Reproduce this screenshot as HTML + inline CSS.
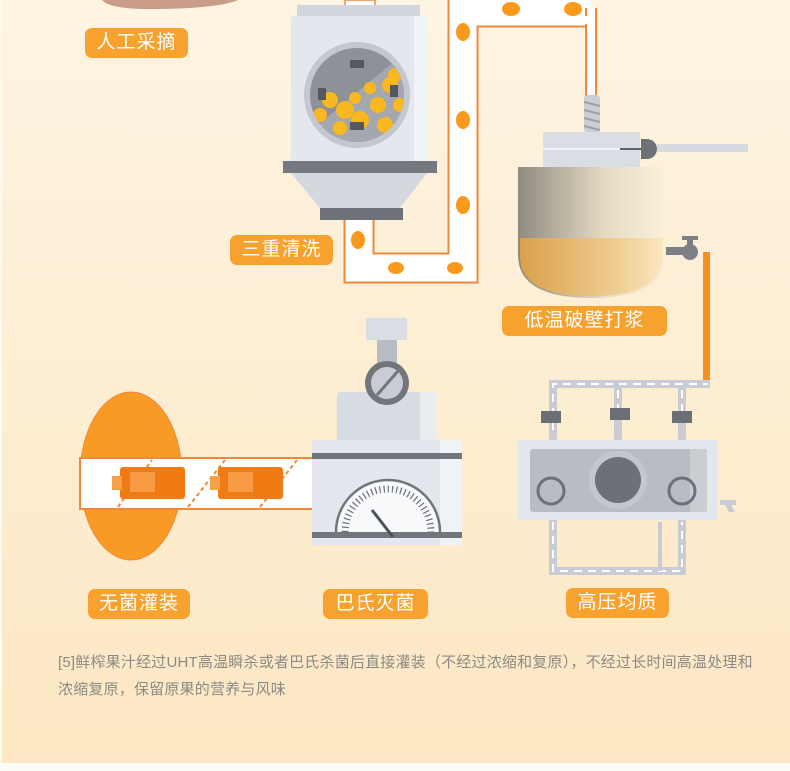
<!DOCTYPE html>
<html><head><meta charset="utf-8"><style>
html,body{margin:0;padding:0}
body{width:790px;height:771px;overflow:hidden;font-family:"Liberation Sans","Noto Sans CJK SC",sans-serif;}
.lbl{position:absolute;background:#f7a12f;color:#fff;border-radius:7px;font-size:19px;line-height:30px;height:30px;text-align:center;letter-spacing:1px}
.note{position:absolute;left:58px;top:649px;width:720px;font-size:15px;line-height:27px;color:#8c8a85;letter-spacing:0.2px;white-space:nowrap}
</style></head><body>
<svg width="790" height="771" style="position:absolute;left:0;top:0" xmlns="http://www.w3.org/2000/svg">
<defs>
<linearGradient id="bg" x1="0" y1="0" x2="0" y2="1"><stop offset="0" stop-color="#fdf4e2"/><stop offset="1" stop-color="#fde7c3"/></linearGradient>
<linearGradient id="jar" x1="0" y1="0" x2="1" y2="0"><stop offset="0" stop-color="#8f8b80"/><stop offset="0.6" stop-color="#e6dcc5"/><stop offset="1" stop-color="#fbf0d8"/></linearGradient>
<linearGradient id="juice" x1="0" y1="0" x2="1" y2="0"><stop offset="0" stop-color="#d9a149"/><stop offset="0.7" stop-color="#efcf95"/><stop offset="1" stop-color="#fae7c2"/></linearGradient>
<clipPath id="circ"><circle cx="357" cy="95" r="47"/></clipPath>
</defs>
<rect width="790" height="771" fill="url(#bg)"/>
<rect x="0" y="763" width="790" height="8" fill="#fefcf8"/>
<rect x="0" y="0" width="2" height="763" fill="#fffaf0"/>
<path d="M102 0 Q110 10 160 9 Q220 8 238 0 Z" fill="#c99d8a"/>
<path d="M359 219 V268 H463 V12 H591" fill="none" stroke="#f08a3a" stroke-width="31"/>
<path d="M359 219 V268 H463 V12 H591" fill="none" stroke="#fff" stroke-width="27"/>
<rect x="585" y="8" width="12" height="90" fill="#f08a3a"/>
<rect x="587" y="8" width="8" height="90" fill="#fff"/>
<rect x="579" y="16" width="12" height="8" fill="#fff"/>
<rect x="345" y="0" width="30" height="8" fill="#fff" stroke="#f08a3a" stroke-width="1.5"/>
<g fill="#f99a1d">
<ellipse cx="358" cy="240" rx="7" ry="9"/><ellipse cx="396" cy="268" rx="8" ry="6"/><ellipse cx="455" cy="268" rx="8" ry="6"/>
<ellipse cx="463" cy="32" rx="7" ry="9"/><ellipse cx="463" cy="120" rx="7" ry="9"/><ellipse cx="463" cy="205" rx="7" ry="9"/>
<ellipse cx="511" cy="9" rx="9" ry="7"/><ellipse cx="573" cy="9" rx="9" ry="7"/>
</g>
<rect x="297" y="5" width="123" height="13" fill="#d2d7de"/>
<rect x="291" y="16" width="136" height="146" rx="3" fill="#e4e8ee"/>
<rect x="414" y="16" width="13" height="146" fill="#f1f3f6"/>
<circle cx="357" cy="95" r="53" fill="#c3c7ce"/>
<circle cx="357" cy="95" r="47" fill="#8e9198"/>
<g clip-path="url(#circ)">
<polygon points="300,140 420,40 420,150" fill="#a4a7ad"/>
<g fill="#f9b720"><circle cx="330" cy="100" r="8"/><circle cx="345" cy="110" r="9"/><circle cx="320" cy="115" r="7"/><circle cx="360" cy="120" r="9"/><circle cx="378" cy="105" r="8"/><circle cx="390" cy="85" r="8"/><circle cx="370" cy="88" r="6"/><circle cx="340" cy="128" r="7"/><circle cx="385" cy="125" r="8"/><circle cx="400" cy="105" r="7"/><circle cx="315" cy="132" r="6"/><circle cx="395" cy="75" r="7"/><circle cx="355" cy="98" r="6"/></g>
</g>
<rect x="350" y="60" width="14" height="8" fill="#55585e"/><rect x="318" y="88" width="8" height="12" fill="#55585e"/><rect x="350" y="122" width="14" height="8" fill="#55585e"/><rect x="390" y="85" width="8" height="12" fill="#55585e"/>
<rect x="283" y="161" width="154" height="12" fill="#75787e"/>
<polygon points="291,173 427,173 400,208 320,208" fill="#d4d8df"/>
<rect x="320" y="208" width="83" height="12" fill="#6f7278"/>
<rect x="584" y="95" width="16" height="38" rx="4" fill="#c9ced6"/>
<g stroke="#9aa0a8" stroke-width="2"><line x1="584" y1="102" x2="600" y2="106"/><line x1="584" y1="110" x2="600" y2="114"/><line x1="584" y1="118" x2="600" y2="122"/><line x1="584" y1="126" x2="600" y2="130"/></g>
<path d="M518 167 H665 V255 Q665 298 592 298 Q518 298 518 255 Z" fill="url(#jar)"/>
<path d="M520 238 H663 V256 Q663 296 592 296 Q520 296 520 256 Z" fill="url(#juice)"/>
<rect x="543" y="132" width="97" height="35" fill="#d9dde4"/>
<line x1="543" y1="149" x2="640" y2="149" stroke="#f3f4f7" stroke-width="2"/>
<line x1="620" y1="149" x2="642" y2="149" stroke="#5f6268" stroke-width="2"/>
<path d="M641 139 H647 A10 10 0 0 1 647 159 H641 Z" fill="#6e7178"/>
<rect x="657" y="144" width="91" height="8" fill="#d6dbe2"/>
<rect x="666" y="247" width="22" height="8" fill="#7c7f86"/><circle cx="690" cy="252" r="8" fill="#7c7f86"/><rect x="687" y="237" width="6" height="8" fill="#7c7f86"/><rect x="682" y="236" width="16" height="4" fill="#7c7f86"/>
<rect x="703" y="252" width="7" height="130" fill="#f7901e"/>
<g fill="none" stroke="#c8cdd5" stroke-width="8">
<path d="M553 442 V384 H710"/><path d="M618 384 V442"/><path d="M682 384 V442"/>
<path d="M553 518 V571 H682 V518"/>
</g>
<g fill="none" stroke="#fff" stroke-width="2" stroke-dasharray="8 6">
<path d="M553 430 V384 H708"/><path d="M618 390 V412"/><path d="M682 390 V412"/><path d="M553 522 V571 H682 V522"/>
</g>
<line x1="660" y1="522" x2="660" y2="571" stroke="#c8cdd5" stroke-width="4"/>
<rect x="541" y="411" width="20" height="12" fill="#6b6e75"/><rect x="610" y="408" width="20" height="12" fill="#6b6e75"/><rect x="672" y="411" width="20" height="12" fill="#6b6e75"/>
<rect x="518" y="440" width="200" height="80" fill="#e2e6ed"/>
<rect x="530" y="449" width="177" height="63" rx="3" fill="#b9bcc3"/>
<rect x="690" y="449" width="17" height="63" fill="#d2d5da" opacity=".7"/>
<circle cx="618" cy="480" r="29" fill="#c4c7cd"/><circle cx="618" cy="480" r="23" fill="#6d7078"/>
<circle cx="551" cy="491" r="13" fill="none" stroke="#6d7078" stroke-width="3"/>
<circle cx="682" cy="491" r="13" fill="none" stroke="#6d7078" stroke-width="3"/>
<path d="M720 500 H736 V505 H731 L735 512 H729 L725 505 H720 Z" fill="#c8cdd5"/>
<ellipse cx="131" cy="476" rx="51" ry="84" fill="#f99a24" stroke="#f08a3a"/>
<rect x="80" y="458" width="235" height="51" fill="#fff" stroke="#f08a3a" stroke-width="2"/>
<g stroke="#f08a3a" stroke-width="2" stroke-dasharray="4 3"><line x1="118" y1="507" x2="152" y2="460"/><line x1="188" y1="507" x2="225" y2="460"/><line x1="260" y1="507" x2="297" y2="460"/></g>
<rect x="120" y="467" width="65" height="32" rx="3" fill="#f07a14"/><rect x="112" y="476" width="10" height="14" fill="#f4a24a"/>
<rect x="218" y="467" width="65" height="32" rx="3" fill="#f07a14"/><rect x="210" y="476" width="10" height="14" fill="#f4a24a"/>
<g fill="#ffb060"><rect x="130" y="472" width="25" height="20" opacity=".6"/><rect x="228" y="472" width="25" height="20" opacity=".6"/></g>
<rect x="366" y="318" width="41" height="22" fill="#d9dde4"/>
<rect x="377" y="340" width="20" height="24" fill="#b8bcc3"/>
<rect x="337" y="392" width="98" height="50" rx="4" fill="#d8dce3"/>
<rect x="420" y="392" width="15" height="50" fill="#e9ecf1"/>
<circle cx="387" cy="383" r="22" fill="#72757c"/><circle cx="387" cy="383" r="16" fill="#c9cdd3"/>
<line x1="377" y1="395" x2="398" y2="371" stroke="#72757c" stroke-width="3"/>
<rect x="312" y="440" width="150" height="105" fill="#e4e8ee"/>
<rect x="440" y="440" width="22" height="105" fill="#f0f2f5"/>
<rect x="312" y="453" width="150" height="6" fill="#72757c"/>
<rect x="312" y="532" width="150" height="6" fill="#72757c"/>
<path d="M336 532 A52 52 0 0 1 440 532" fill="#f8f9fb" stroke="#72757c" stroke-width="2.5"/>
<path d="M345 532 A43 43 0 0 1 431 532" fill="none" stroke="#6d7077" stroke-width="7" stroke-dasharray="1.2 3"/>
<line x1="372" y1="510" x2="393" y2="537" stroke="#4e5157" stroke-width="3"/>
</svg>
<div class="lbl" style="left:85px;top:28px;width:103px">人工采摘</div>
<div class="lbl" style="left:230px;top:235px;width:103px">三重清洗</div>
<div class="lbl" style="left:502px;top:306px;width:165px">低温破壁打浆</div>
<div class="lbl" style="left:88px;top:589px;width:102px">无菌灌装</div>
<div class="lbl" style="left:323px;top:589px;width:105px">巴氏灭菌</div>
<div class="lbl" style="left:566px;top:588px;width:103px">高压均质</div>
<div class="note">[5]鲜榨果汁经过UHT高温瞬杀或者巴氏杀菌后直接灌装（不经过浓缩和复原），不经过长时间高温处理和<br>浓缩复原，保留原果的营养与风味</div>
</body></html>
